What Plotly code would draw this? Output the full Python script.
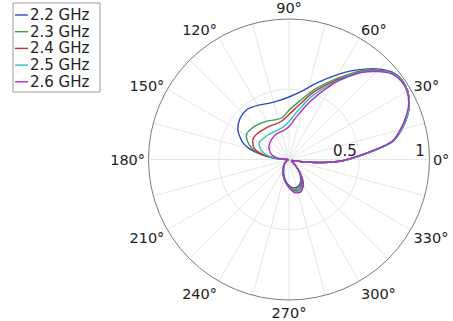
import plotly.graph_objects as go

THETA = [0, 5, 10, 15, 20, 25, 30, 35, 40, 45, 50, 55, 60, 70, 80, 90, 100, 110,
         120, 130, 140, 150, 160, 165, 170, 175, 180, 190, 200, 210, 220, 230,
         240, 250, 260, 270, 280, 290, 300, 310, 320, 330, 340, 345, 350, 352,
         354, 356, 358]

SERIES_NAMES = ["2.2 GHz", "2.3 GHz", "2.4 GHz", "2.5 GHz", "2.6 GHz"]

R_22 = [0.42, 0.575, 0.755, 0.83, 0.895, 0.945, 0.975, 0.985, 0.965, 0.91, 0.84, 0.77, 0.70,
        0.58, 0.49, 0.445, 0.425, 0.425, 0.445, 0.465, 0.455, 0.42, 0.35, 0.29, 0.20,
        0.10, 0.02, 0.005, 0.01, 0.02, 0.035, 0.055, 0.075, 0.11, 0.15, 0.185, 0.205,
        0.20, 0.17, 0.11, 0.05, 0.025, 0.02, 0.03, 0.08, 0.12, 0.20, 0.28, 0.36]
R_23 = [0.42, 0.575, 0.755, 0.83, 0.895, 0.945, 0.975, 0.982, 0.96, 0.90, 0.83, 0.74, 0.66,
        0.53, 0.42, 0.35, 0.30, 0.30, 0.315, 0.33, 0.345, 0.35, 0.30, 0.26, 0.19,
        0.10, 0.02, 0.005, 0.01, 0.02, 0.035, 0.055, 0.078, 0.115, 0.155, 0.19, 0.215,
        0.21, 0.18, 0.115, 0.05, 0.025, 0.02, 0.03, 0.08, 0.12, 0.20, 0.28, 0.36]
R_24 = [0.42, 0.57, 0.75, 0.83, 0.895, 0.945, 0.975, 0.98, 0.955, 0.895, 0.82, 0.72, 0.645,
        0.51, 0.39, 0.32, 0.28, 0.27, 0.275, 0.28, 0.29, 0.295, 0.27, 0.24, 0.18,
        0.09, 0.02, 0.005, 0.01, 0.02, 0.037, 0.058, 0.08, 0.12, 0.16, 0.195, 0.225,
        0.225, 0.19, 0.12, 0.05, 0.025, 0.02, 0.03, 0.08, 0.12, 0.20, 0.28, 0.36]
R_25 = [0.42, 0.57, 0.75, 0.83, 0.895, 0.945, 0.975, 0.98, 0.955, 0.89, 0.815, 0.71, 0.63,
        0.48, 0.35, 0.27, 0.235, 0.225, 0.225, 0.23, 0.235, 0.245, 0.215, 0.19, 0.15,
        0.08, 0.02, 0.005, 0.01, 0.02, 0.038, 0.06, 0.082, 0.12, 0.16, 0.2, 0.232,
        0.235, 0.2, 0.12, 0.048, 0.022, 0.02, 0.03, 0.08, 0.12, 0.20, 0.28, 0.36]
R_26 = [0.41, 0.56, 0.745, 0.82, 0.885, 0.94, 0.97, 0.975, 0.95, 0.885, 0.81, 0.72, 0.62,
        0.44, 0.31, 0.235, 0.21, 0.205, 0.20, 0.19, 0.18, 0.165, 0.14, 0.125, 0.10,
        0.06, 0.015, 0.005, 0.01, 0.02, 0.04, 0.062, 0.085, 0.12, 0.15, 0.20, 0.24,
        0.245, 0.205, 0.12, 0.045, 0.02, 0.02, 0.03, 0.08, 0.12, 0.20, 0.28, 0.36]

SERIES_R = [R_22, R_23, R_24, R_25, R_26]
COLORS = ["#3346c8", "#3a9e4a", "#c43232", "#2ec0c8", "#b02cc0"]

ANGLE_TICKS = list(range(0, 360, 15))
ANGLE_LABELS = [f"{a}°" if a % 30 == 0 else "" for a in ANGLE_TICKS]
RADIAL_TICKS = [0.5, 1]
RADIAL_LABELS = ["0.5\u00a0\u00a0\u00a0\u00a0\u00a0\u00a0", "1\u00a0\u00a0\u00a0\u00a0"]

FONT = "DejaVu Sans, Verdana, sans-serif"
W, H = 453, 321

fig = go.Figure()
for name, r, c in zip(SERIES_NAMES, SERIES_R, COLORS):
    fig.add_trace(go.Scatterpolar(
        r=r + [r[0]], theta=THETA + [360], mode="lines", name=name,
        line=dict(color=c, width=1.4, shape="spline", smoothing=0.8),
        showlegend=False,
    ))

# Legend box (COMSOL style: short line keys, compact rows)
box_l, box_t, box_r, box_b = 13, 3, 100, 92
row0, row_h = 15, 16.7
fig.add_shape(type="rect", xref="paper", yref="paper",
              x0=box_l / W, x1=box_r / W, y0=1 - box_t / H, y1=1 - box_b / H,
              line=dict(color="#9a9a9a", width=1), fillcolor="white", layer="above")
for i, (n, c) in enumerate(zip(SERIES_NAMES, COLORS)):
    yc = 1 - (row0 + row_h * i) / H
    fig.add_shape(type="line", xref="paper", yref="paper",
                  x0=15 / W, x1=28 / W, y0=yc, y1=yc,
                  line=dict(color=c, width=1.4), layer="above")
    fig.add_annotation(xref="paper", yref="paper", x=28 / W, y=yc,
                       xanchor="left", yanchor="middle", showarrow=False,
                       text=n, font=dict(family=FONT, size=15, color="#222222"))

fig.update_layout(
    width=W, height=H, autosize=False,
    margin=dict(l=0, r=0, t=0, b=0),
    paper_bgcolor="white", plot_bgcolor="white",
    font=dict(family=FONT, size=13, color="#222222"),
    showlegend=False,
    polar=dict(
        domain=dict(x=[148 / W, 430 / W], y=[21 / H, 302 / H]),
        bgcolor="white",
        angularaxis=dict(
            direction="counterclockwise", rotation=0,
            tickmode="array", tickvals=ANGLE_TICKS, ticktext=ANGLE_LABELS,
            ticks="", showline=True, linecolor="#7a7a7a", linewidth=1,
            gridcolor="#e6e6e6", gridwidth=1,
            tickfont=dict(family=FONT, size=14.5, color="#222222"),
        ),
        radialaxis=dict(
            range=[0, 1], angle=0, side="counterclockwise",
            tickmode="array", tickvals=RADIAL_TICKS, ticktext=RADIAL_LABELS,
            ticks="", showline=False, gridcolor="#e6e6e6", gridwidth=1,
            tickfont=dict(family=FONT, size=15, color="#222222"),
        ),
    ),
)

fig.write_html(
    "out.html",
    config={"displayModeBar": False},
    post_script="document.body.style.margin='0';document.body.style.overflow='hidden';",
)
